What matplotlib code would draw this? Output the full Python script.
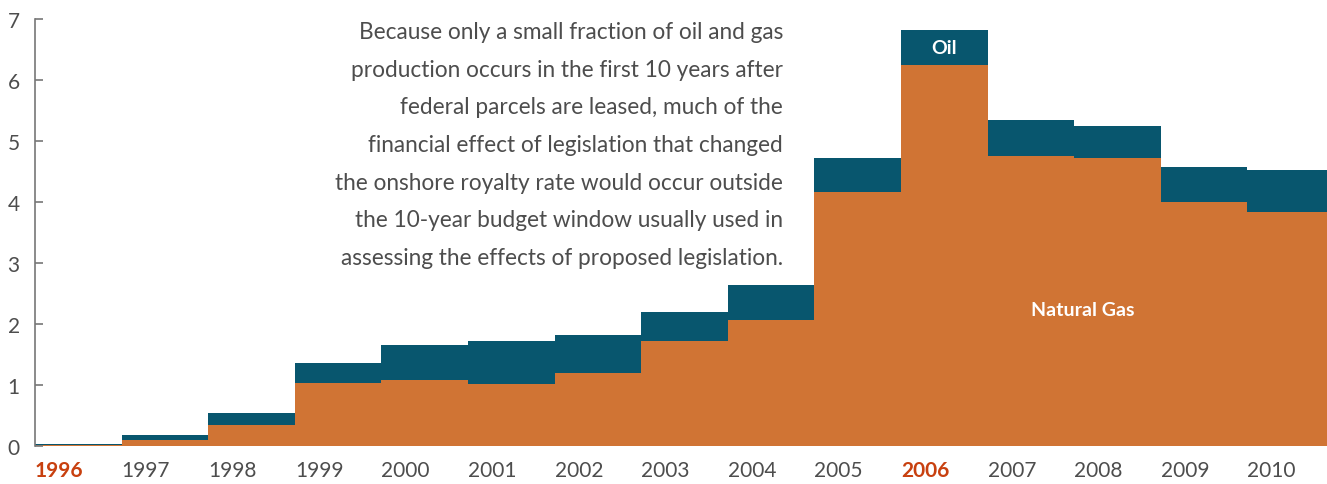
import matplotlib
matplotlib.use("Agg")
import matplotlib.pyplot as plt
import numpy as np

years = ["1996", "1997", "1998", "1999", "2000", "2001", "2002", "2003",
         "2004", "2005", "2006", "2007", "2008", "2009", "2010"]
natural_gas = [0.01, 0.09, 0.34, 1.03, 1.08, 1.01, 1.19, 1.72, 2.06,
               4.17, 6.24, 4.75, 4.72, 3.99, 3.84]
total = [0.03, 0.17, 0.54, 1.36, 1.65, 1.72, 1.81, 2.19, 2.64,
         4.72, 6.82, 5.34, 5.24, 4.58, 4.52]
oil = [t - g for t, g in zip(total, natural_gas)]
highlight_years = ["1996", "2006"]
yticks = [0, 1, 2, 3, 4, 5, 6, 7]

note = ("Because only a small fraction of oil and gas\n"
        "production occurs in the first 10 years after\n"
        "federal parcels are leased, much of the\n"
        "financial effect of legislation that changed\n"
        "the onshore royalty rate would occur outside\n"
        "the 10-year budget window usually used in\n"
        "assessing the effects of proposed legislation.")

GAS = "#D07434"
OIL = "#08566E"
TXT = "#4D4D4D"
HL = "#C8400F"
FONT = ["Lato", "DejaVu Sans"]

plt.rcParams["font.family"] = FONT

fig = plt.figure(figsize=(13.27, 4.85), dpi=100)
ax = fig.add_axes([35 / 1327, (485 - 446.7) / 485, 1292 / 1327, 426.7 / 485])

x = np.arange(len(years))
ax.bar(x, natural_gas, width=1.0, align="edge", color=GAS, linewidth=0)
ax.bar(x, oil, width=1.0, align="edge", bottom=natural_gas, color=OIL, linewidth=0)

ax.set_xlim(0, 14.92)
ax.set_ylim(0, 7)

for s in ["top", "right", "bottom"]:
    ax.spines[s].set_visible(False)
ax.spines["left"].set_color("#777777")
ax.spines["left"].set_linewidth(1.2)

ax.set_yticks(yticks)
ax.set_yticklabels([str(v) for v in yticks])
ax.tick_params(axis="y", direction="in", length=6, width=1.2, color="#777777",
               labelsize=15, labelcolor=TXT, pad=11)

ax.set_xticks(x)
ax.set_xticklabels(years)
ax.tick_params(axis="x", length=0, labelsize=15, labelcolor=TXT, pad=10)
for lab in ax.get_xticklabels():
    lab.set_horizontalalignment("left")
    if lab.get_text() in highlight_years:
        lab.set_color(HL)
        lab.set_fontweight("bold")

ax.text(783 / 1327, (485 - 22) / 485, note, transform=fig.transFigure,
        ha="right", va="top", fontsize=16.3, color=TXT, linespacing=1.98)

i06 = years.index("2006")
ax.text(i06 + 0.5, natural_gas[i06] + oil[i06] / 2, "Oil", ha="center",
        va="center", color="white", fontsize=14, fontweight="bold")
ax.text(12.1, 2.23, "Natural Gas", ha="center", va="center", color="white",
        fontsize=14, fontweight="bold")

fig.savefig("out.png", dpi=100)
